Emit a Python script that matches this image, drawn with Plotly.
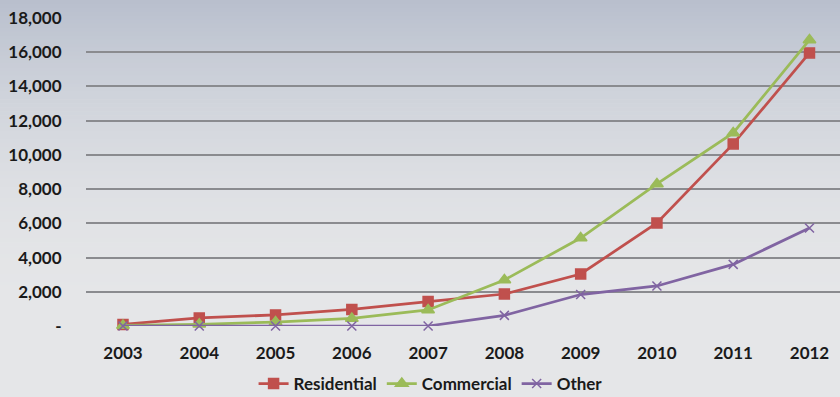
import plotly.graph_objects as go

years = [2003, 2004, 2005, 2006, 2007, 2008, 2009, 2010, 2011, 2012]
residential = [90, 470, 650, 970, 1430, 1870, 3040, 6020, 10640, 15960]
commercial = [30, 100, 230, 440, 940, 2690, 5140, 8300, 11280, 16720]
other = [0, 0, 0, 0, 0, 620, 1840, 2340, 3600, 5730]

y_ticks = [0, 2000, 4000, 6000, 8000, 10000, 12000, 14000, 16000, 18000]
y_labels = ["-", "2,000", "4,000", "6,000", "8,000", "10,000", "12,000", "14,000", "16,000", "18,000"]

W, H = 840, 397
ML, MR, MT, MB = 86, 0, 18, 71
PW, PH = W - ML - MR, H - MT - MB

font_family = "Lato"
font_size = 17
tick_color = "#1a1a1a"

fig = go.Figure()

series = [
    ("Residential", residential, "#c0504d", "square", 10),
    ("Commercial", commercial, "#9bbb59", "triangle-up", 11),
    ("Other", other, "#8064a2", "x-thin", 9),
]
for name, vals, color, symbol, size in series:
    fig.add_trace(go.Scatter(
        x=years, y=vals, name=name, mode="lines+markers",
        line=dict(color=color, width=2.75),
        marker=dict(symbol=symbol, size=size, color=color,
                    line=dict(color=color, width=1.5)),
        cliponaxis=False,
    ))

# vertical background gradient, bluish grey at the top to light grey below
top = (184, 191, 205)
bottom = (229, 230, 232)
n_bands = 100
shapes = []
y_top_paper = (PH + MT) / PH
y_bot_paper = -MB / PH
span = y_top_paper - y_bot_paper
for i in range(n_bands):
    t0 = i / n_bands
    t1 = (i + 1) / n_bands
    f = min(1.0, (t0 + t1) / 2 / 0.8)
    f = f * (2 - f)  # ease out so the lower part flattens gently
    c = tuple(round(top[k] + (bottom[k] - top[k]) * f) for k in range(3))
    shapes.append(dict(
        type="rect", xref="paper", yref="paper", layer="below",
        x0=-ML / PW - 0.01, x1=1.01,
        y0=y_top_paper - span * t1 - (0.02 if i == n_bands - 1 else 0.002),
        y1=y_top_paper - span * t0 + (0.02 if i == 0 else 0),
        fillcolor="rgb(%d,%d,%d)" % c, line=dict(width=0),
    ))

bold_font = dict(family=font_family, size=font_size, color=tick_color, weight="bold")

fig.update_layout(
    width=W, height=H,
    margin=dict(l=ML, r=MR, t=MT, b=MB, autoexpand=False),
    paper_bgcolor="rgb(229,230,232)",
    plot_bgcolor="rgba(0,0,0,0)",
    shapes=shapes,
    font=bold_font,
    showlegend=True,
    legend=dict(
        orientation="h", x=0.457, xanchor="center",
        yref="container", y=1 - 384 / H, yanchor="middle",
        font=bold_font,
        bgcolor="rgba(0,0,0,0)", itemwidth=30, tracegroupgap=0,
    ),
    xaxis=dict(
        range=[2002.515, 2012.4], tickvals=years, ticktext=[str(y) for y in years],
        showgrid=False, zeroline=False, showline=False,
        ticks="outside", ticklen=12, tickcolor="rgba(0,0,0,0)",
        tickfont=bold_font,
        fixedrange=True,
    ),
    yaxis=dict(
        range=[0, 18000], tickvals=y_ticks, ticktext=y_labels,
        showgrid=True, gridcolor="#8a8b8f", gridwidth=1.5,
        zeroline=False, showline=False,
        ticks="outside", ticklen=20, tickcolor="rgba(0,0,0,0)",
        tickfont=bold_font,
        fixedrange=True,
    ),
)

fig.write_html("out.html")
